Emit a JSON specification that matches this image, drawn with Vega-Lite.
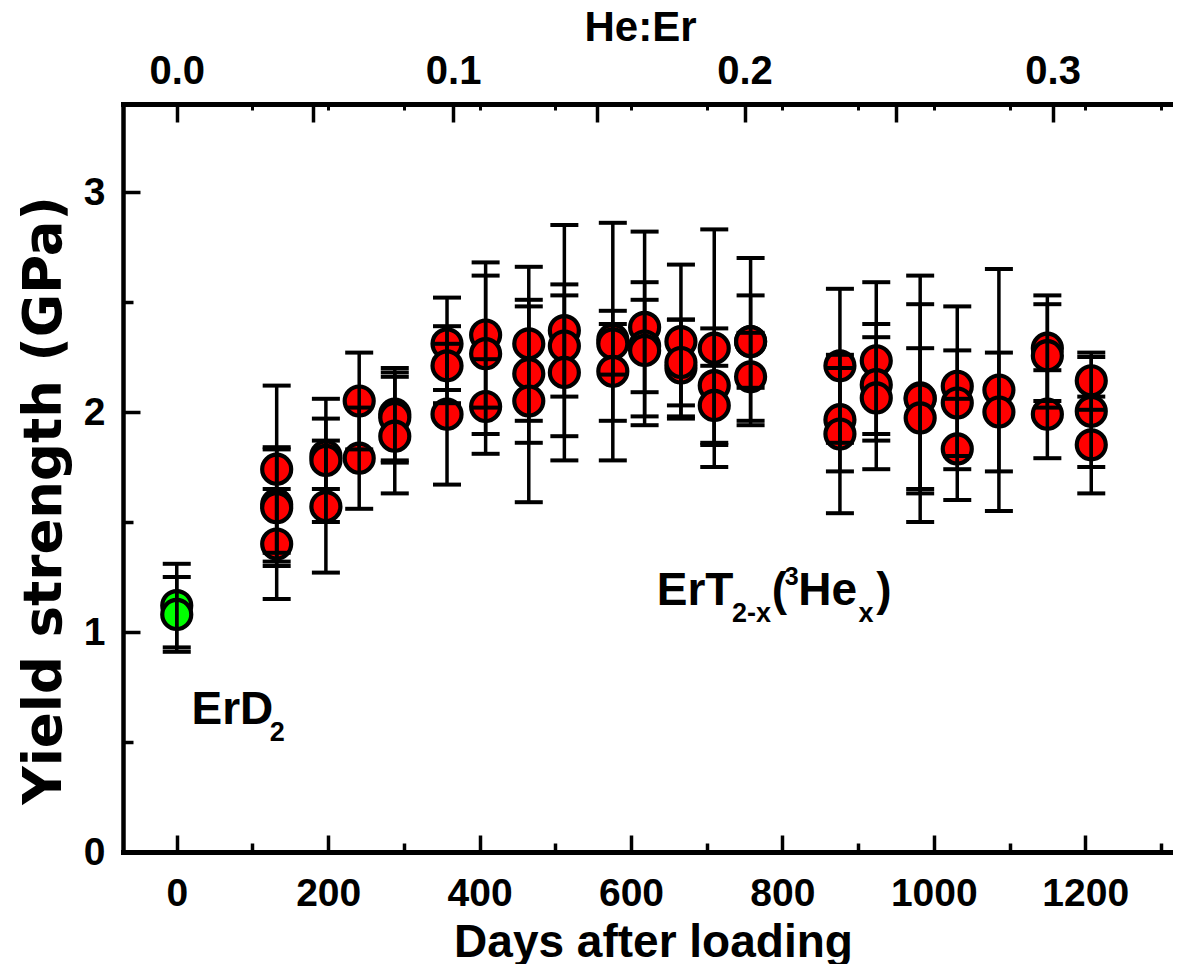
{
  "$schema": "https://vega.github.io/schema/vega-lite/v6.json",
  "width": 1047,
  "height": 748,
  "autosize": {"type": "none"},
  "padding": {"left": 123, "top": 104, "right": 10, "bottom": 112},
  "background": "white",
  "config": {
    "view": {"stroke": null},
    "axis": {
      "labelFont": "Liberation Sans", "labelFontWeight": "bold", "labelColor": "black",
      "titleFont": "Liberation Sans", "titleFontWeight": "bold", "titleColor": "black",
      "domainColor": "black", "tickColor": "black", "grid": false,
      "labelOverlap": false, "labelFlush": false, "domainCap": "square", "tickCap": "butt"
    },
    "text": {"font": "Liberation Sans", "fontWeight": "bold", "color": "black", "align": "left", "baseline": "alphabetic"}
  },
  "datasets": {
    "points": [
      {"day": 0, "gpa": 1.12, "lo": 0.93, "hi": 1.31, "sample": "ErD2"},
      {"day": 0, "gpa": 1.08, "lo": 0.91, "hi": 1.25, "sample": "ErD2"},
      {"day": 132, "gpa": 1.74, "lo": 1.36, "hi": 2.12, "sample": "ErT"},
      {"day": 132, "gpa": 1.58, "lo": 1.32, "hi": 1.84, "sample": "ErT"},
      {"day": 132, "gpa": 1.565, "lo": 1.30, "hi": 1.83, "sample": "ErT"},
      {"day": 132, "gpa": 1.40, "lo": 1.15, "hi": 1.65, "sample": "ErT"},
      {"day": 197, "gpa": 1.80, "lo": 1.65, "hi": 1.97, "sample": "ErT"},
      {"day": 197, "gpa": 1.78, "lo": 1.50, "hi": 2.06, "sample": "ErT"},
      {"day": 197, "gpa": 1.57, "lo": 1.27, "hi": 1.87, "sample": "ErT"},
      {"day": 241, "gpa": 2.05, "lo": 1.83, "hi": 2.27, "sample": "ErT"},
      {"day": 241, "gpa": 1.79, "lo": 1.56, "hi": 2.02, "sample": "ErT"},
      {"day": 288, "gpa": 1.99, "lo": 1.78, "hi": 2.20, "sample": "ErT"},
      {"day": 288, "gpa": 1.975, "lo": 1.77, "hi": 2.18, "sample": "ErT"},
      {"day": 288, "gpa": 1.89, "lo": 1.63, "hi": 2.16, "sample": "ErT"},
      {"day": 357, "gpa": 2.31, "lo": 2.10, "hi": 2.52, "sample": "ErT"},
      {"day": 357, "gpa": 2.21, "lo": 2.04, "hi": 2.39, "sample": "ErT"},
      {"day": 357, "gpa": 1.99, "lo": 1.67, "hi": 2.31, "sample": "ErT"},
      {"day": 408, "gpa": 2.35, "lo": 2.02, "hi": 2.68, "sample": "ErT"},
      {"day": 408, "gpa": 2.265, "lo": 1.90, "hi": 2.62, "sample": "ErT"},
      {"day": 408, "gpa": 2.025, "lo": 1.81, "hi": 2.24, "sample": "ErT"},
      {"day": 465, "gpa": 2.31, "lo": 1.96, "hi": 2.66, "sample": "ErT"},
      {"day": 465, "gpa": 2.174, "lo": 1.86, "hi": 2.48, "sample": "ErT"},
      {"day": 465, "gpa": 2.05, "lo": 1.59, "hi": 2.51, "sample": "ErT"},
      {"day": 512, "gpa": 2.37, "lo": 1.89, "hi": 2.85, "sample": "ErT"},
      {"day": 512, "gpa": 2.30, "lo": 2.07, "hi": 2.53, "sample": "ErT"},
      {"day": 512, "gpa": 2.18, "lo": 1.78, "hi": 2.58, "sample": "ErT"},
      {"day": 576, "gpa": 2.33, "lo": 1.78, "hi": 2.86, "sample": "ErT"},
      {"day": 576, "gpa": 2.31, "lo": 2.17, "hi": 2.46, "sample": "ErT"},
      {"day": 576, "gpa": 2.185, "lo": 1.96, "hi": 2.40, "sample": "ErT"},
      {"day": 618, "gpa": 2.385, "lo": 1.94, "hi": 2.82, "sample": "ErT"},
      {"day": 618, "gpa": 2.30, "lo": 1.98, "hi": 2.59, "sample": "ErT"},
      {"day": 618, "gpa": 2.28, "lo": 2.09, "hi": 2.51, "sample": "ErT"},
      {"day": 666, "gpa": 2.32, "lo": 1.97, "hi": 2.67, "sample": "ErT"},
      {"day": 666, "gpa": 2.20, "lo": 1.98, "hi": 2.42, "sample": "ErT"},
      {"day": 666, "gpa": 2.225, "lo": 2.03, "hi": 2.42, "sample": "ErT"},
      {"day": 710, "gpa": 2.29, "lo": 1.75, "hi": 2.83, "sample": "ErT"},
      {"day": 710, "gpa": 2.12, "lo": 1.86, "hi": 2.38, "sample": "ErT"},
      {"day": 710, "gpa": 2.03, "lo": 1.85, "hi": 2.21, "sample": "ErT"},
      {"day": 758, "gpa": 2.32, "lo": 1.94, "hi": 2.70, "sample": "ErT"},
      {"day": 758, "gpa": 2.32, "lo": 2.11, "hi": 2.53, "sample": "ErT"},
      {"day": 758, "gpa": 2.16, "lo": 1.96, "hi": 2.36, "sample": "ErT"},
      {"day": 876, "gpa": 2.21, "lo": 1.86, "hi": 2.56, "sample": "ErT"},
      {"day": 876, "gpa": 1.965, "lo": 1.73, "hi": 2.20, "sample": "ErT"},
      {"day": 876, "gpa": 1.90, "lo": 1.54, "hi": 2.26, "sample": "ErT"},
      {"day": 924, "gpa": 2.233, "lo": 1.87, "hi": 2.59, "sample": "ErT"},
      {"day": 924, "gpa": 2.124, "lo": 1.90, "hi": 2.34, "sample": "ErT"},
      {"day": 924, "gpa": 2.064, "lo": 1.74, "hi": 2.40, "sample": "ErT"},
      {"day": 982, "gpa": 2.064, "lo": 1.50, "hi": 2.62, "sample": "ErT"},
      {"day": 982, "gpa": 2.06, "lo": 1.63, "hi": 2.49, "sample": "ErT"},
      {"day": 982, "gpa": 1.973, "lo": 1.65, "hi": 2.29, "sample": "ErT"},
      {"day": 1031, "gpa": 2.117, "lo": 1.74, "hi": 2.48, "sample": "ErT"},
      {"day": 1031, "gpa": 2.041, "lo": 1.80, "hi": 2.28, "sample": "ErT"},
      {"day": 1031, "gpa": 1.832, "lo": 1.60, "hi": 2.06, "sample": "ErT"},
      {"day": 1086, "gpa": 2.10, "lo": 1.55, "hi": 2.65, "sample": "ErT"},
      {"day": 1086, "gpa": 2.00, "lo": 1.73, "hi": 2.27, "sample": "ErT"},
      {"day": 1150, "gpa": 2.29, "lo": 2.05, "hi": 2.53, "sample": "ErT"},
      {"day": 1150, "gpa": 2.256, "lo": 2.02, "hi": 2.49, "sample": "ErT"},
      {"day": 1150, "gpa": 1.99, "lo": 1.79, "hi": 2.19, "sample": "ErT"},
      {"day": 1208, "gpa": 2.142, "lo": 2.01, "hi": 2.27, "sample": "ErT"},
      {"day": 1208, "gpa": 2.003, "lo": 1.75, "hi": 2.25, "sample": "ErT"},
      {"day": 1208, "gpa": 1.851, "lo": 1.63, "hi": 2.07, "sample": "ErT"}
    ],
    "ann_main": [
      {"day": 19.5, "gpa": 0.583, "label": "ErD"},
      {"day": 634, "gpa": 1.124, "label": "ErT"},
      {"day": 786, "gpa": 1.124, "label": "("},
      {"day": 821, "gpa": 1.124, "label": "He"},
      {"day": 924, "gpa": 1.124, "label": ")"}
    ],
    "ann_sub": [
      {"day": 123, "gpa": 0.503, "label": "2"},
      {"day": 733.4, "gpa": 1.044, "label": "2-x"},
      {"day": 900.6, "gpa": 1.044, "label": "x"}
    ],
    "ann_sup": [
      {"day": 803, "gpa": 1.215, "label": "3"}
    ],
    "dummy": [{"day": 0, "gpa": 0}]
  },
  "layer": [
    {
      "layer": [
        {
          "data": {"name": "points"},
          "mark": {"type": "point", "shape": "circle", "filled": true, "size": 841, "stroke": "black", "strokeWidth": 4.2, "opacity": 1},
          "encoding": {
            "x": {"field": "day", "type": "quantitative", "scale": {"domain": [-71, 1312], "nice": false, "zero": false},
              "axis": {"orient": "bottom", "values": [0, 200, 400, 600, 800, 1000, 1200], "format": "d", "tickSize": -17, "tickWidth": 3.5, "domainWidth": 5,
                "labelFontSize": 39, "labelPadding": 70.7, "labelBaseline": "alphabetic",
                "title": "Days after loading", "titleFontSize": 46, "titleX": 530, "titleY": 104, "titleAlign": "center", "titleBaseline": "alphabetic"}},
            "y": {"field": "gpa", "type": "quantitative", "scale": {"domain": [0, 3.4], "nice": false, "zero": false},
              "axis": {"orient": "left", "values": [0, 1, 2, 3], "format": "d", "tickSize": -17, "tickWidth": 3.5, "domainWidth": 4.5,
                "labelFontSize": 39, "labelPadding": 35,
                "title": "Yield strength (GPa)", "titleFont": "DejaVu Sans", "titleFontSize": 53, "titleX": -63, "titleY": 396, "titleAngle": -90, "titleAlign": "center", "titleBaseline": "alphabetic"}},
            "fill": {"field": "sample", "type": "nominal", "scale": {"domain": ["ErD2", "ErT"], "range": ["#00ff00", "#ff0000"]}, "legend": null}
          }
        },
        {
          "data": {"name": "points"},
          "mark": {"type": "rule", "color": "black", "strokeWidth": 3.5},
          "encoding": {
            "x": {"field": "day", "type": "quantitative"},
            "y": {"field": "lo", "type": "quantitative"},
            "y2": {"field": "hi"}
          }
        },
        {
          "data": {"name": "points"},
          "mark": {"type": "tick", "orient": "horizontal", "color": "black", "size": 28, "thickness": 4, "opacity": 1},
          "encoding": {
            "x": {"field": "day", "type": "quantitative"},
            "y": {"field": "lo", "type": "quantitative"}
          }
        },
        {
          "data": {"name": "points"},
          "mark": {"type": "tick", "orient": "horizontal", "color": "black", "size": 28, "thickness": 4, "opacity": 1},
          "encoding": {
            "x": {"field": "day", "type": "quantitative"},
            "y": {"field": "hi", "type": "quantitative"}
          }
        },
        {
          "data": {"name": "ann_main"},
          "mark": {"type": "text", "fontSize": 46},
          "encoding": {
            "x": {"field": "day", "type": "quantitative"},
            "y": {"field": "gpa", "type": "quantitative"},
            "text": {"field": "label"}
          }
        },
        {
          "data": {"name": "ann_sub"},
          "mark": {"type": "text", "fontSize": 27},
          "encoding": {
            "x": {"field": "day", "type": "quantitative"},
            "y": {"field": "gpa", "type": "quantitative"},
            "text": {"field": "label"}
          }
        },
        {
          "data": {"name": "ann_sup"},
          "mark": {"type": "text", "fontSize": 25},
          "encoding": {
            "x": {"field": "day", "type": "quantitative"},
            "y": {"field": "gpa", "type": "quantitative"},
            "text": {"field": "label"}
          }
        }
      ]
    },
    {
      "data": {"name": "dummy"},
      "mark": {"type": "point", "opacity": 0},
      "encoding": {
        "x": {"field": "day", "type": "quantitative", "scale": {"domain": [-71, 1312], "nice": false, "zero": false},
          "axis": {"orient": "bottom", "values": [100, 300, 500, 700, 900, 1100, 1300], "labels": false, "domain": false, "tickSize": -9, "tickWidth": 3.5, "title": null}},
        "y": {"field": "gpa", "type": "quantitative", "scale": {"domain": [0, 3.4], "nice": false, "zero": false},
          "axis": {"orient": "left", "values": [0.5, 1.5, 2.5], "labels": false, "domain": false, "tickSize": -10, "tickWidth": 3.5, "title": null}}
      }
    },
    {
      "data": {"name": "dummy"},
      "mark": {"type": "point", "opacity": 0},
      "encoding": {
        "x": {"field": "day", "type": "quantitative", "scale": {"domain": [-71, 1312], "nice": false, "zero": false},
          "axis": {"orient": "top", "values": [0, 180, 365, 555, 750, 950, 1157],
            "labelExpr": "datum.value == 0 ? '0.0' : datum.value == 365 ? '0.1' : datum.value == 750 ? '0.2' : datum.value == 1157 ? '0.3' : ''",
            "tickSize": -18, "tickWidth": 3.5, "domainWidth": 5, "labelFontSize": 40, "labelPadding": 39, "labelBaseline": "alphabetic",
            "title": "He:Er", "titleFontSize": 42, "titleX": 517, "titleY": -64, "titleAlign": "center", "titleBaseline": "alphabetic"}},
        "y": {"field": "gpa", "type": "quantitative", "scale": {"domain": [0, 3.4], "nice": false, "zero": false}, "axis": null}
      }
    },
    {
      "data": {"name": "dummy"},
      "mark": {"type": "point", "opacity": 0},
      "encoding": {
        "x": {"field": "day", "type": "quantitative", "scale": {"domain": [-71, 1312], "nice": false, "zero": false},
          "axis": {"orient": "top", "values": [100, 200, 300, 400, 500, 600, 700, 800, 900, 1000, 1100, 1200, 1300], "labels": false, "domain": false, "tickSize": -6, "tickWidth": 3, "title": null}},
        "y": {"field": "gpa", "type": "quantitative", "scale": {"domain": [0, 3.4], "nice": false, "zero": false}, "axis": null}
      }
    }
  ],
  "resolve": {"scale": {"x": "independent", "y": "independent"}}
}
